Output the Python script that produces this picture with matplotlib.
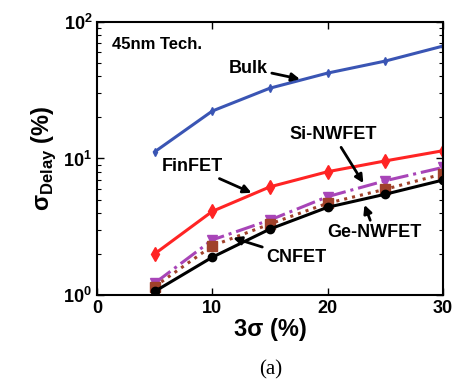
import matplotlib.pyplot as plt

plt.rcParams['font.family'] = 'Liberation Sans'
plt.rcParams['font.weight'] = 'bold'
plt.rcParams['axes.labelweight'] = 'bold'

# delay variation vs. 3-sigma process variation, 45nm
x = [5, 10, 15, 20, 25, 30]
bulk = [11.2, 22.3, 32.8, 42.3, 51.8, 66.7]
finfet = [2.0, 4.1, 6.2, 8.0, 9.6, 11.4]
si_nwfet = [1.22, 2.53, 3.54, 5.25, 6.87, 8.6]
ge_nwfet = [1.15, 2.29, 3.31, 4.7, 5.95, 7.7]
cnfet = [1.06, 1.89, 3.04, 4.39, 5.47, 6.95]

fig = plt.figure(figsize=(4.58, 3.88), dpi=100, facecolor='white')
ax = fig.add_axes([0.212, 0.240, 0.755, 0.703])

ax.plot(x, bulk, '-d', color='#3a55b4', lw=2.2, ms=4)
ax.plot(x, finfet, '-d', color='#ff2424', lw=2.2, ms=7)
ax.plot(x, si_nwfet, '-.v', color='#a845b8', lw=2.2, ms=7)
ax.plot(x, ge_nwfet, ':s', color='#a0412a', lw=2.2, ms=7)
ax.plot(x, cnfet, '-o', color='black', lw=2.2, ms=6)

ax.set_yscale('log')
ax.set_xlim(0, 30)
ax.set_ylim(1, 100)
ax.set_xticks([0, 10, 20, 30])
ax.tick_params(which='both', direction='in', top=True, right=True, labelsize=13)
ax.tick_params(which='major', length=5, width=1)
ax.tick_params(which='minor', length=3, width=0.8)
for s in ax.spines.values():
    s.set_linewidth(1.5)

ax.set_xlabel('3σ (%)', fontsize=17, fontweight='bold', labelpad=1)
ax.set_ylabel(r'σ$_{\mathregular{Delay}}$ (%)', fontsize=17, fontweight='bold',
              labelpad=4)

ax.text(1.3, 68, '45nm Tech.', fontsize=12, va='center')

arrow = dict(arrowstyle='-|>', color='black', lw=2, mutation_scale=12,
             shrinkA=1, shrinkB=0)
ax.annotate('Bulk', xy=(17.6, 38.2), xytext=(14.8, 46), fontsize=13,
            ha='right', va='center', arrowprops=arrow)
ax.annotate('Si-NWFET', xy=(23.1, 6.6), xytext=(16.7, 14.9), fontsize=13,
            ha='left', va='center', arrowprops=arrow)
ax.annotate('FinFET', xy=(13.4, 5.6), xytext=(8.3, 8.7), fontsize=13,
            ha='center', va='center', arrowprops=arrow)
ax.annotate('Ge-NWFET', xy=(23.2, 4.57), xytext=(24.1, 2.85), fontsize=13,
            ha='center', va='center', arrowprops=arrow)
ax.annotate('CNFET', xy=(11.8, 2.62), xytext=(17.3, 1.87), fontsize=13,
            ha='center', va='center', arrowprops=arrow)

fig.text(0.59, 0.035, '(a)', family='Liberation Serif', fontweight='normal',
         fontsize=15, ha='center')

fig.savefig('out.png', dpi=100)
